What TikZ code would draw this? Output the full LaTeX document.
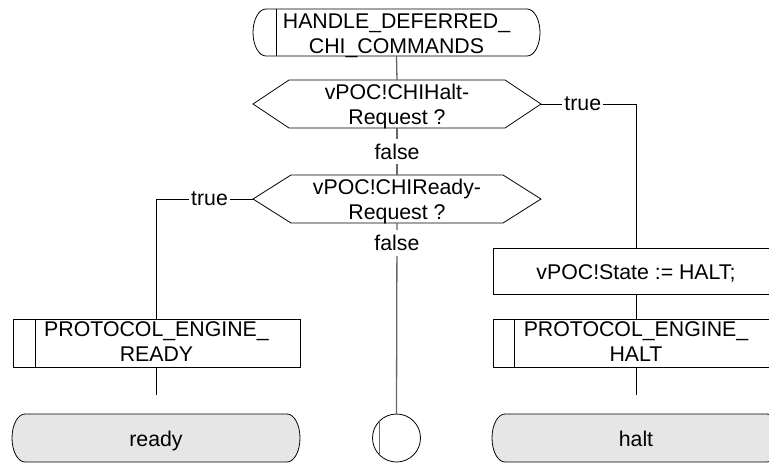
\documentclass[tikz,border=0pt]{standalone}
\usepackage{fontspec}
\setmainfont{Liberation Sans}
\definecolor{termfill}{RGB}{230,230,230}
\begin{document}
\begin{tikzpicture}[x=1pt,y=-1pt,
  ln/.style={draw=black, line width=0.8pt},
  cln/.style={draw=black!60, line width=1.3pt},
  frame/.style={inner sep=0pt, outer sep=0pt, minimum height=48pt},
  txt/.style={inner sep=0pt, outer sep=0pt, align=center, font=\fontsize{21.3}{25}\selectfont},
  lbl/.style={fill=white, inner xsep=2pt, inner ysep=5pt, font=\fontsize{21.3}{25}\selectfont}
]
\useasboundingbox (0,0) rectangle (769,464);
\clip (0,0) rectangle (769,464);

% ---- start terminal (procedure start)
\node[frame, minimum width=287pt, minimum height=47pt] (start) at (396.5,32.5) {};
\draw[ln] ([xshift=13pt]start.north west) -- ([xshift=-13pt]start.north east)
  arc[start angle=90, end angle=-90, x radius=13pt, y radius=23.5pt]
  -- ([xshift=13pt]start.south west)
  arc[start angle=270, end angle=90, x radius=13pt, y radius=23.5pt] -- cycle;
\draw[ln] ([xshift=23pt]start.north west) -- ([xshift=23pt]start.south west);
\node[txt] (startt) at ([yshift=-3pt]start.center) {HANDLE\_DEFERRED\_\\CHI\_COMMANDS};

% ---- decision 1
\node[frame, minimum width=288pt] (h1) at (397,104) {};
\draw[ln] (h1.west) -- ([xshift=36pt]h1.north west) -- ([xshift=-36pt]h1.north east)
  -- (h1.east) -- ([xshift=-36pt]h1.south east) -- ([xshift=36pt]h1.south west) -- cycle;
\node[txt] (h1t) at ([yshift=-2.5pt]h1.center) {vPOC!CHIHalt-\\Request ?};

% ---- decision 2
\node[frame, minimum width=288pt] (h2) at (397,199) {};
\draw[ln] (h2.west) -- ([xshift=38pt]h2.north west) -- ([xshift=-38pt]h2.north east)
  -- (h2.east) -- ([xshift=-38pt]h2.south east) -- ([xshift=38pt]h2.south west) -- cycle;
\node[txt] (h2t) at ([yshift=-2.5pt]h2.center) {vPOC!CHIReady-\\Request ?};

% ---- task box
\node[frame, draw, line width=0.8pt, minimum width=286pt, minimum height=46pt] (state) at (636,271) {};
\node[txt, anchor=base] (statet) at ([yshift=-8pt]state.center) {vPOC!State := HALT;};

% ---- procedure call boxes
\node[frame, draw, line width=0.8pt, minimum width=287pt] (peready) at (156.5,343) {};
\draw[ln] ([xshift=22pt]peready.north west) -- ([xshift=22pt]peready.south west);
\node[txt] (pereadyt) at ([yshift=1.5pt]peready.center) {PROTOCOL\_ENGINE\_\\READY};

\node[frame, draw, line width=0.8pt, minimum width=286pt] (pehalt) at (636,343) {};
\draw[ln] ([xshift=21pt]pehalt.north west) -- ([xshift=21pt]pehalt.south west);
\node[txt] (pehaltt) at ([yshift=1.5pt]pehalt.center) {PROTOCOL\_ENGINE\_\\HALT};

% ---- end states
\node[frame, minimum width=288pt] (ready) at (156,438) {};
\draw[ln, fill=termfill] ([xshift=13pt]ready.north west) -- ([xshift=-13pt]ready.north east)
  arc[start angle=90, end angle=-90, x radius=13pt, y radius=24pt]
  -- ([xshift=13pt]ready.south west)
  arc[start angle=270, end angle=90, x radius=13pt, y radius=24pt] -- cycle;
\node[txt, anchor=base] (readyt) at ([yshift=-8pt]ready.center) {ready};

\node[frame, minimum width=288pt] (halt) at (636,438) {};
\draw[ln, fill=termfill] ([xshift=13pt]halt.north west) -- ([xshift=-13pt]halt.north east)
  arc[start angle=90, end angle=-90, x radius=13pt, y radius=24pt]
  -- ([xshift=13pt]halt.south west)
  arc[start angle=270, end angle=90, x radius=13pt, y radius=24pt] -- cycle;
\node[txt, anchor=base] (haltt) at ([yshift=-8pt]halt.center) {halt};

% ---- connector circle
\node[circle, draw, line width=0.8pt, minimum size=48pt, inner sep=0pt, outer sep=0pt] (circ) at (396.5,438) {};
\draw[cln] ([shift={(-17pt,17pt)}]circ.center) -- ([shift={(-17pt,-17pt)}]circ.center);

% ---- connectors
\draw[cln] (start.south) -- (h1.north);
\draw[cln] (h1.south) -- node[lbl] (f1) {false} (h2.north);
\draw[cln] (h2.south) -- node[lbl, pos=0.105] (f2) {false} (circ.north);
\draw[ln] (h1.east) -- node[lbl, pos=0.44] (t1) {true} (h1.east -| state.north) -- (state.north);
\draw[ln] (h2.west) -- node[lbl, pos=0.45] (t2) {true} (h2.west -| peready.north) -- (peready.north);
\draw[ln] (state.south) -- (pehalt.north);
\coordinate (rend) at (156.5,395);
\coordinate (hend) at (636,395);
\draw[ln] (peready.south) -- (rend);
\draw[ln] (pehalt.south) -- (hend);
\end{tikzpicture}
\end{document}
